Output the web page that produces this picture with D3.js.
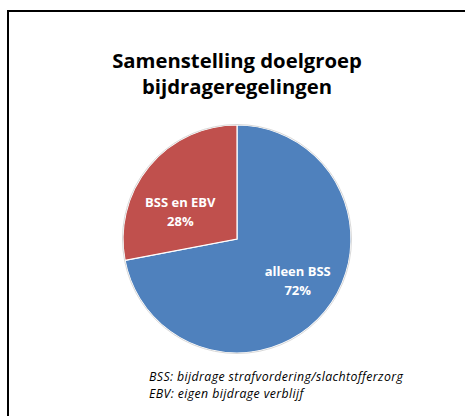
<!DOCTYPE html>
<html lang="nl">
<head>
  <meta charset="UTF-8">
  <title>Samenstelling doelgroep bijdrageregelingen</title>
  <script src="https://cdn.jsdelivr.net/npm/d3@7"></script>
  <style>
    body { margin: 0; background: #fff; }
    svg text { font-family: "Open Sans", "Liberation Sans", sans-serif; }
  </style>
</head>
<body>
  <script>
    var categories = ["alleen BSS", "BSS en EBV"];
    var values = [72, 28];                       // percentages
    var colors = ["#4F81BD", "#C0504D"];
    var titleLines = ["Samenstelling doelgroep", "bijdrageregelingen"];
    var notes = ["BSS: bijdrage strafvordering/slachtofferzorg", "EBV: eigen bijdrage verblijf"];

    var width = 465, height = 416,
        cx = 237, cy = 239, radius = 114;

    var svg = d3.select("body").append("svg")
        .attr("width", width)
        .attr("height", height);

    // frame (only top and left edges visible in crop)
    svg.append("path")
       .attr("d", "M8,420 L8,11 L470,11")
       .attr("fill", "none")
       .attr("stroke", "#000")
       .attr("stroke-width", 2);

    // title
    svg.append("g").selectAll("text")
       .data(titleLines)
       .enter().append("text")
        .attr("x", 237)
        .attr("y", function(d, i) { return 68 + i * 26; })
        .attr("text-anchor", "middle")
        .attr("font-size", 20.3)
        .attr("font-weight", "bold")
        .attr("fill", "#000")
        .text(function(d) { return d; });

    var pie = d3.pie().sort(null)
        .startAngle(0).endAngle(2 * Math.PI);
    var arcs = pie(values);
    var arc = d3.arc().innerRadius(0).outerRadius(radius);
    var labelArc = d3.arc().innerRadius(radius * 0.6).outerRadius(radius * 0.6);

    var g = svg.append("g").attr("transform", "translate(" + cx + "," + cy + ")");

    g.selectAll("path")
     .data(arcs)
     .enter().append("path")
      .attr("d", arc)
      .attr("fill", function(d, i) { return colors[i]; })
      .attr("stroke", "#fff")
      .attr("stroke-width", 1.2);

    // light outline round the pie
    g.append("circle")
     .attr("r", radius + 0.5)
     .attr("fill", "none")
     .attr("stroke", "#d9d9d9")
     .attr("stroke-width", 1);

    // excel-ish label placement: nudge from the centroid
    var nudge = [[8, -4], [-4, 15]];

    var labels = g.selectAll("g.lbl")
      .data(arcs)
      .enter().append("g")
       .attr("class", "lbl")
       .attr("transform", function(d, i) {
         var c = labelArc.centroid(d);
         return "translate(" + (c[0] + nudge[i][0]) + "," + (c[1] + nudge[i][1]) + ")";
       });

    labels.append("text")
      .attr("text-anchor", "middle")
      .attr("y", -3)
      .attr("font-size", 13)
      .attr("font-weight", "bold")
      .attr("fill", "#fff")
      .text(function(d, i) { return categories[i]; });

    labels.append("text")
      .attr("text-anchor", "middle")
      .attr("y", 16)
      .attr("font-size", 13)
      .attr("font-weight", "bold")
      .attr("fill", "#fff")
      .text(function(d, i) { return values[i] + "%"; });

    // footnote
    svg.append("g").selectAll("text")
       .data(notes)
       .enter().append("text")
        .attr("x", 149)
        .attr("y", function(d, i) { return 381 + i * 16.5; })
        .attr("font-size", 12.3)
        .attr("letter-spacing", 0.4)
        .attr("font-style", "italic")
        .attr("fill", "#000")
        .text(function(d) { return d; });
  </script>
</body>
</html>
